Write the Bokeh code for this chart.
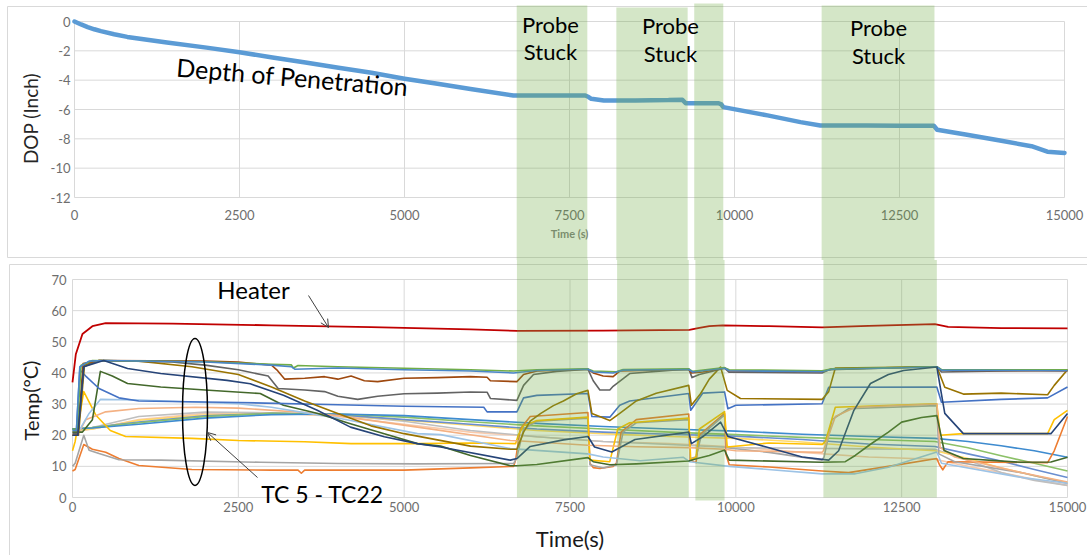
from bokeh.plotting import figure
from bokeh.layouts import column
from bokeh.models import Range1d, LinearAxis, FixedTicker, Arrow, OpenHead
from bokeh.embed import file_html
from bokeh.resources import INLINE
from bokeh.core.properties import value

# ---------------------------------------------------------------- data
time_ticks = [0, 2500, 5000, 7500, 10000, 12500, 15000]
time_labels = ["0", "2500", "5000", "7500", "10000", "12500", "15000"]
dop_ticks = [-12, -10, -8, -6, -4, -2, 0]
dop_labels = ["-12", "-10", "-8", "-6", "-4", "-2", "0"]
temp_ticks = [0, 10, 20, 30, 40, 50, 60, 70]
temp_labels = ["0", "10", "20", "30", "40", "50", "60", "70"]

# periods where the probe was stuck (s)
stuck_start = [6700, 8210, 9390, 11320]
stuck_end = [7770, 9290, 9830, 13030]

# depth of penetration (inch)
dop_t = [0, 100, 200, 300, 400, 600, 800, 1100, 1400, 2000, 2500, 3000, 3500, 4000, 4500, 5000,
         5500, 6000, 6650, 7000, 7500, 7740, 7790, 7830, 8020, 8500, 9000, 9210, 9260, 9760,
         9800, 9830, 10500, 11000, 11300, 12000, 12500, 13020, 13070, 13500, 14000, 14500,
         14740, 15000]
dop_v = [0, -0.2, -0.38, -0.53, -0.66, -0.87, -1.05, -1.25, -1.43, -1.78, -2.1, -2.45, -2.8,
         -3.15, -3.5, -3.9, -4.25, -4.6, -5.05, -5.05, -5.05, -5.05, -5.15, -5.27, -5.39, -5.38,
         -5.36, -5.33, -5.57, -5.57, -5.65, -5.84, -6.4, -6.86, -7.09, -7.09, -7.1, -7.1, -7.38,
         -7.7, -8.1, -8.5, -8.88, -8.96]

# heater temperature (degC)
heater_t = [0, 50, 150, 300, 500, 1500, 3000, 4500, 6000, 6700, 8000, 9300, 9450, 9600, 9800,
            10500, 11300, 12000, 13000, 13200, 14000, 15000]
heater_c = [37, 46, 52.5, 55, 56, 55.8, 55.3, 54.7, 54, 53.5, 53.6, 53.8, 54.5, 55, 55.3,
            55, 54.6, 55.1, 55.7, 54.8, 54.4, 54.3]

# thermocouples TC5 - TC22 (degC)
tc_blue_t = [0, 60, 110, 250, 500, 2000, 3000, 3300, 3350, 4000, 5000, 6000, 6650, 6750, 7000,
             7770, 7850, 8150, 8300, 9290, 9350, 9830, 9900, 11300, 11450, 13030, 13100, 15000]
tc_blue_c = [21.5, 21.5, 42, 43.8, 44, 43.5, 42.5, 42, 41.2, 41.6, 41, 40.6, 40, 40.2, 40.8,
             41.2, 40.3, 40, 40.9, 41.1, 40.3, 41.5, 40.7, 40.4, 41.2, 41.9, 40.9, 40.7]

tc_green_t = [0, 70, 130, 300, 2000, 3000, 3300, 3330, 3400, 4000, 5000, 6000, 6650, 7000, 7770,
              7850, 8200, 8300, 9290, 9350, 9830, 9900, 11300, 11450, 13030, 13100, 15000]
tc_green_c = [22, 22, 42.5, 44, 43.6, 42.8, 42.6, 41.6, 42.4, 42, 41.5, 41, 40.6, 41, 41.3,
              40.6, 40.4, 41.1, 41.3, 40.5, 41.7, 41, 40.7, 41.3, 42, 41.1, 41]

tc_brown_t = [0, 80, 160, 400, 2000, 2500, 3000, 3080, 3200, 3500, 3800, 4000, 4200, 4400, 4600,
              5000, 5500, 6000, 6250, 6300, 6700, 6800, 7000, 7770, 7850, 8000, 8150, 8250, 9290,
              9330, 9500, 9830, 9900, 11300, 11450, 13030, 13100, 15000]
tc_brown_c = [20, 20, 43, 44, 43.8, 43.5, 42.5, 41, 38, 38.3, 38.8, 38, 39, 37.5, 37.2,
              38.3, 38.5, 38.8, 38.6, 37.5, 37.2, 39.5, 40.6, 41.2, 40, 39, 38.8, 40.6, 41.1,
              40, 40.3, 41.6, 40.6, 40.4, 41.3, 42, 40.9, 40.6]

tc_dgray_t = [0, 80, 170, 400, 1500, 2000, 2500, 2950, 3100, 3500, 3800, 4000, 4300, 4600, 5000,
              5500, 6000, 6250, 6300, 6700, 6800, 6950, 7300, 7770, 7850, 7950, 8100, 8150, 8400,
              9290, 9340, 9450, 9830, 9900, 11300, 11400, 13030, 13100, 15000]
tc_dgray_c = [20.5, 20.5, 42, 44, 43.5, 42.5, 41, 39, 35, 34.5, 34, 32.5, 31.5, 32.5, 33.3,
              33.5, 33.9, 33.8, 31.8, 31.2, 36, 39.5, 40.5, 41.2, 37.5, 34.5, 34.5, 35.7, 39.8,
              41.3, 38.5, 39.5, 41.5, 40.2, 40, 41, 42, 40.3, 41]

tc_olive_t = [0, 90, 180, 400, 1000, 1800, 2500, 3000, 3500, 4000, 4500, 5000, 5500, 6000, 6600,
              6700, 6800, 6900, 7060, 7250, 7400, 7600, 7770, 7830, 8100, 8250, 8500, 8800, 9290,
              9330, 9470, 9600, 9770, 9870, 10070, 11300, 11400, 11500, 13030, 13150, 13430,
              14000, 14700, 14800, 15000]
tc_olive_c = [20, 20, 42.5, 44, 43.8, 42, 39.5, 35.5, 31, 27, 23, 20.5, 18.5, 16.5, 15.5,
              15.5, 21, 24.5, 27, 29.5, 31, 33.3, 34.4, 27, 24.7, 27, 31, 33.5, 36,
              29.6, 33.4, 38, 41.9, 34.4, 31.8, 31.5, 34, 41.6, 42, 35.4, 33.2,
              33.5, 33, 36, 41]

tc_mblue_t = [0, 60, 110, 200, 400, 700, 1000, 2500, 4000, 5000, 6200, 6250, 6700, 6800, 7000,
              7770, 7830, 8100, 8250, 8400, 9290, 9320, 9500, 9830, 9880, 10000, 11300, 11400,
              13030, 13100, 14000, 14700, 15000]
tc_mblue_c = [22, 22, 41, 39, 35, 32, 31, 30.5, 29.8, 29.3, 29, 27.5, 27.5, 32, 32.8,
              33.4, 26, 25.8, 29.6, 31, 33.4, 28, 33.5, 33.9, 28.5, 29.6, 30.1, 35.4,
              35.5, 30.6, 31.5, 32, 35.5]

tc_dgreen_t = [0, 150, 300, 420, 600, 830, 1330, 2000, 2830, 3180, 3700, 4190, 4700, 5200, 5550,
               6000, 6600, 6700, 7000, 7770, 7850, 8100, 8500, 9290, 9420, 9600, 9800, 9830, 9900,
               11300, 11650, 11800, 12030, 12300, 12500, 12800, 13030, 13140, 13430, 14290,
               14750, 15000]
tc_dgreen_c = [21, 21, 25, 40.5, 39, 36.6, 35.5, 34.5, 33.4, 29.6, 27, 23.7, 20.5, 17.3, 16.5,
               13.5, 10.2, 10.2, 10.6, 12.8, 11.5, 10.5, 10.8, 11.7, 12.5, 13.5, 15, 15.2, 12,
               11.3, 11.5, 13.5, 17.1, 21, 24.2, 25.7, 26.3, 15.1, 12.5, 11.3,
               11.4, 12.9]

tc_navy_t = [0, 80, 170, 470, 830, 1330, 2330, 2680, 3180, 3690, 4190, 4700, 5200, 5550, 6600,
             6700, 6900, 7400, 7770, 7870, 8130, 8480, 9290, 9330, 9500, 9770, 9880, 10500, 11000,
             11400, 11550, 11780, 12030, 12300, 12530, 13030, 13150, 13430, 14750, 15000]
tc_navy_c = [20, 20, 42, 44, 41.4, 39.8, 37.6, 36.5, 32.8, 28, 22.6, 19.5, 17.3, 16.2, 12,
             12.5, 16.4, 18.5, 19.6, 16.2, 14.6, 18.6, 21, 17.3, 19.5, 24.2, 19.6, 16, 13,
             12, 15, 28, 36.6, 39.5, 40.8, 41.9, 27, 20.5, 20.5, 27]

tc_lblue_t = [0, 100, 250, 420, 1000, 2500, 3000, 4000, 5200, 5550, 6600, 7770, 8000, 8560, 9210,
              9300, 9900, 11300, 11800, 12300, 13030, 13100, 14290, 15000]
tc_lblue_c = [21.5, 21.5, 27, 31.5, 31.3, 30.1, 29, 25.5, 20.5, 20.2, 15.7, 14, 13, 11.8, 12.9,
              11.5, 10, 7.6, 7.6, 9.7, 14.6, 11, 6.5, 4.6]

tc_lorange_t = [0, 100, 200, 500, 1000, 1860, 2500, 3500, 4000, 5200, 6600, 6700, 7770, 8500, 9290,
                9830, 10000, 11300, 11320, 11500, 11800, 13030, 13080, 13300, 14300, 15000]
tc_lorange_c = [21, 21, 25, 27.5, 28.6, 29, 28.7, 27.3, 26.3, 22.6, 18.3, 18.2, 16.8, 16.3, 16,
                15.5, 15, 14.5, 15, 26, 29, 30, 16, 13, 8, 5]

tc_gold_t = [0, 40, 170, 350, 570, 800, 1800, 2500, 3500, 4200, 5200, 6000, 6680, 6720, 6800,
             7000, 7770, 7800, 8100, 8220, 8400, 9290, 9320, 9400, 9450, 9830, 9870, 10500, 11300,
             11350, 11500, 13030, 13080, 13430, 14700, 14800, 15000]
tc_gold_c = [15, 18, 34, 26.5, 21.5, 19.6, 19, 18.3, 17.9, 17.3, 17.3, 17.5, 17.3, 20, 23,
             24.7, 25.8, 12, 11.5, 22, 24, 25.5, 12, 13, 22, 27.6, 16.2, 17.5, 17,
             18, 29, 30.1, 20, 20.5, 20.5, 25, 28]

tc_gray_t = [0, 40, 170, 250, 400, 700, 1330, 2830, 4000, 5200, 6650, 6700, 6800, 7000, 7770,
             7800, 8000, 8200, 8300, 8500, 9290, 9310, 9400, 9480, 9830, 9860, 10500, 11300, 11330,
             11450, 11700, 13030, 13060, 13300, 14300, 14700, 15000]
tc_gray_c = [10, 11, 20, 15.2, 14.1, 12.1, 12, 11.3, 10.9, 10.8, 10.9, 13, 22, 24.5, 25.5,
             10.5, 9.5, 10.5, 21, 24, 25, 12.5, 13, 20, 26.5, 16, 14.5, 12, 13,
             25, 28.5, 29.5, 14, 11.5, 8, 6, 4.5]

tc_orange_t = [0, 40, 170, 300, 500, 700, 1000, 1800, 3000, 3400, 3450, 3500, 5000, 6000, 6650,
               6680, 6750, 6900, 7770, 7800, 7850, 7950, 8150, 8200, 8270, 8500, 9290, 9310, 9400,
               9450, 9830, 9850, 9900, 10500, 11300, 11700, 12300, 13030, 13070, 13120, 13200,
               14700, 14800, 15000]
tc_orange_c = [8.5, 9, 17, 15.5, 14.5, 12.5, 10.3, 9, 8.8, 8.8, 7.8, 8.8, 8.8, 9.5, 10,
               12, 22, 26, 27.3, 11, 9.6, 9.3, 10, 11, 21, 25, 26.8, 12, 11.2,
               20, 27, 14, 10.5, 9.8, 8.5, 8, 10, 12.5, 10.5, 8.9, 11.5,
               11.2, 15, 26]

tc_slow_t = [0, 300, 1000, 2000, 3000, 4000, 5000, 6000, 7000, 8000, 9000, 10000, 11000, 12000,
             13000, 13500, 14000, 14500, 15000]
tc_slow1_c = [22, 22.3, 23.5, 25.5, 26.6, 26.8, 26.3, 25, 23.8, 22.8, 22, 21.3, 20.3, 19.6,
              19, 18, 16.6, 15, 12.9]
tc_slow2_c = [22, 22.5, 24, 26, 27, 26.8, 25.8, 24.3, 23, 22, 21, 20.2, 19.3, 18.6,
              18, 16, 13.4, 11, 8.5]
tc_slow3_c = [22, 22.5, 24.2, 26.2, 27, 26.6, 25, 23.5, 22, 21, 20.3, 19.7, 18.6, 17.2,
              16.4, 14, 11.7, 9, 6.4]
tc_slow4_c = [21.5, 22, 24.8, 26.5, 27, 26.5, 24.8, 23.2, 21.5, 20.5, 19.6, 19, 17.8, 16.2,
              15, 12.5, 9.5, 7, 4.8]
tc_slow5_c = [21, 22.5, 26, 27.4, 27.2, 26.5, 24.5, 21.5, 19.5, 18, 17, 16, 15.8, 15.6,
              15.5, 12, 8, 5.5, 3.9]
tc_slow6_c = [21, 22, 25, 27, 27.2, 26, 23.5, 21, 19.5, 18, 17.3, 16.2, 14.5, 13,
              12.3, 10, 8, 5.8, 3.9]

# ---------------------------------------------------------------- layout constants
W = 1087
TOP_H, BOT_H = 260, 295
FONT = "Lato"
GRID = "#D9D9D9"
TICK_TXT = "#6E6E6E"
BAND = "#70AD47"

# top panel: pixel positions of the plot area
T_X0, T_X1 = 74, 1064          # time 0 / 15000
T_Y0, T_Y1 = 21, 197           # DOP 0 / -12
t_sx = (T_X1 - T_X0) / 15000
t_sy = (T_Y1 - T_Y0) / 12

# bottom panel
B_X0, B_X1 = 72, 1067
B_Y0, B_Y70 = 237, 19          # temp 0 / 70 (figure-local pixels)
b_sx = (B_X1 - B_X0) / 15000
b_sy = (B_Y0 - B_Y70) / 70


def top_x(px):
    return (px - T_X0) / t_sx


def top_y(py):
    return -(py - T_Y0) / t_sy


def bot_x(px):
    return (px - B_X0) / b_sx


def bot_y(py):                 # py in page pixels
    return (B_Y0 - (py - TOP_H)) / b_sy


def base_fig(h, xr, yr):
    f = figure(width=W, height=h, x_range=xr, y_range=yr, output_backend="svg",
               toolbar_location=None, x_axis_type=None, y_axis_type=None, min_border=0)
    f.outline_line_color = None
    f.background_fill_color = "white"
    f.border_fill_color = "white"
    return f


def style_axis(ax, size):
    ax.major_tick_line_color = None
    ax.minor_tick_line_color = None
    ax.major_tick_out = 0
    ax.major_tick_in = 0
    ax.minor_tick_out = 0
    ax.minor_tick_in = 0
    ax.major_label_text_font = FONT
    ax.major_label_text_font_size = size
    ax.major_label_text_color = TICK_TXT
    ax.axis_label_text_font = FONT
    ax.axis_label_text_font_style = "normal"


def label(fig, x, y, txt, size, angle=0.0, color="black"):
    fig.text(x=[x], y=[y], text=[txt], angle=angle, text_font=value(FONT),
             text_font_size=size, text_color=color, text_align="center",
             text_baseline="middle", level="overlay")


# ================================================================ top: DOP
top = base_fig(TOP_H,
               Range1d(top_x(0), top_x(W)),
               Range1d(top_y(TOP_H), top_y(0)))

# chart border
top.quad(left=[top_x(7)], right=[top_x(W + 20)], top=[top_y(6)], bottom=[top_y(257)],
         fill_color=None, line_color=GRID, line_width=1)

# grid lines
top.segment(x0=[0] * 6, x1=[15000] * 6, y0=dop_ticks[1:], y1=dop_ticks[1:], line_color=GRID, line_width=1)
top.segment(x0=time_ticks, x1=time_ticks, y0=[-12] * len(time_ticks), y1=[0] * len(time_ticks),
            line_color=GRID, line_width=1)

top.line(dop_t, dop_v, line_width=4.5, line_color="#5B9BD5", line_cap="round", line_join="round")

tx = LinearAxis(fixed_location=-12, ticker=FixedTicker(ticks=time_ticks), bounds=(0, 15000),
                major_label_overrides=dict(zip(time_ticks, time_labels)))
style_axis(tx, "13px")
tx.axis_line_color = GRID
tx.major_label_standoff = 12
tx.axis_label = "Time (s)"
tx.axis_label_text_font_size = "11px"
tx.axis_label_text_font_style = "bold"
tx.axis_label_text_color = "#7F7F7F"
tx.axis_label_standoff = 4
top.add_layout(tx, "below")

ty = LinearAxis(fixed_location=0, ticker=FixedTicker(ticks=dop_ticks), bounds=(-12, 0),
                major_label_overrides=dict(zip(dop_ticks, dop_labels)))
style_axis(ty, "13px")
ty.axis_line_color = None
ty.major_label_standoff = 4
top.add_layout(ty, "left")

label(top, top_x(30), top_y(118), "DOP (Inch)", "19px", angle=1.5708, color="#262626")
label(top, top_x(292), top_y(76), "Depth of Penetration", "25px", angle=-0.085)

band_top_top = [top_y(5), top_y(7), top_y(3), top_y(5)]
top.quad(left=stuck_start, right=stuck_end, top=band_top_top,
         bottom=[top_y(TOP_H + 10)] * 4,
         fill_color=BAND, fill_alpha=0.3, line_color=None, level="overlay")

label_t = [7212, 9030, 12182]
probe_mid_px = [24, 25, 27]
stuck_mid_px = [51, 53, 55]
for lt, pm, sm in zip(label_t, probe_mid_px, stuck_mid_px):
    label(top, lt, top_y(pm), "Probe", "22px")
    label(top, lt, top_y(sm), "Stuck", "22px")

# ================================================================ bottom: temperatures
bot = base_fig(BOT_H,
               Range1d(bot_x(0), bot_x(W)),
               Range1d(bot_y(TOP_H + BOT_H), bot_y(TOP_H)))

bot.quad(left=[bot_x(9)], right=[bot_x(W + 20)], top=[bot_y(264)], bottom=[bot_y(600)],
         fill_color=None, line_color=GRID, line_width=1)

bot.segment(x0=[0] * 7, x1=[15000] * 7, y0=temp_ticks[1:], y1=temp_ticks[1:], line_color=GRID, line_width=1)
bot.segment(x0=time_ticks, x1=time_ticks, y0=[0] * len(time_ticks), y1=[70] * len(time_ticks),
            line_color=GRID, line_width=1)

tc_series = [
    (tc_slow_t, tc_slow6_c, "#F8CBAD"),
    (tc_slow_t, tc_slow5_c, "#BFBFBF"),
    (tc_slow_t, tc_slow4_c, "#FFD966"),
    (tc_slow_t, tc_slow3_c, "#698ED0"),
    (tc_slow_t, tc_slow2_c, "#8CC168"),
    (tc_slow_t, tc_slow1_c, "#3E8BCF"),
    (tc_orange_t, tc_orange_c, "#ED7D31"),
    (tc_gray_t, tc_gray_c, "#A5A5A5"),
    (tc_gold_t, tc_gold_c, "#FFC000"),
    (tc_lorange_t, tc_lorange_c, "#F4B183"),
    (tc_lblue_t, tc_lblue_c, "#9DC3E6"),
    (tc_dgreen_t, tc_dgreen_c, "#43682B"),
    (tc_mblue_t, tc_mblue_c, "#4472C4"),
    (tc_olive_t, tc_olive_c, "#997300"),
    (tc_dgray_t, tc_dgray_c, "#636363"),
    (tc_brown_t, tc_brown_c, "#9E480E"),
    (tc_green_t, tc_green_c, "#70AD47"),
    (tc_blue_t, tc_blue_c, "#4A86C8"),
    (tc_navy_t, tc_navy_c, "#264478"),
]
for xs, ys, col in tc_series:
    bot.line(xs, ys, line_color=col, line_width=1.6, line_join="round")

bot.line(heater_t, heater_c, line_color="#C00000", line_width=1.8)

bx = LinearAxis(fixed_location=0, ticker=FixedTicker(ticks=time_ticks), bounds=(0, 15000),
                major_label_overrides=dict(zip(time_ticks, time_labels)))
style_axis(bx, "13px")
bx.axis_line_color = GRID
bx.major_label_standoff = 4
bx.axis_label = "Time(s)"
bx.axis_label_text_font_size = "22px"
bx.axis_label_text_color = "#1A1A1A"
bx.axis_label_standoff = 10
bot.add_layout(bx, "below")

by = LinearAxis(fixed_location=0, ticker=FixedTicker(ticks=temp_ticks), bounds=(0, 70),
                major_label_overrides=dict(zip(temp_ticks, temp_labels)))
style_axis(by, "13px")
by.axis_line_color = None
by.major_label_standoff = 6
bot.add_layout(by, "left")

label(bot, bot_x(30), bot_y(400), "Temp(°C)", "20px", angle=1.5708, color="#1A1A1A")

# annotations
label(bot, bot_x(253), bot_y(289), "Heater", "24px")
bot.add_layout(Arrow(end=OpenHead(size=8, line_color="#404040", line_width=1),
                     x_start=bot_x(308), y_start=bot_y(295), x_end=bot_x(328), y_end=bot_y(327),
                     line_color="#404040", line_width=1))
bot.ellipse(x=[bot_x(194.5)], y=[bot_y(411.5)], width=[25 / b_sx], height=[147 / b_sy],
            fill_color=None, line_color="black", line_width=1.5)
bot.add_layout(Arrow(end=OpenHead(size=8, line_color="#404040", line_width=1),
                     x_start=bot_x(257), y_start=bot_y(477), x_end=bot_x(207), y_end=bot_y(432),
                     line_color="#404040", line_width=1))
label(bot, bot_x(322), bot_y(493), "TC 5 - TC22", "23px")

bot.quad(left=stuck_start, right=stuck_end, top=[bot_y(TOP_H - 10)] * 4,
         bottom=[bot_y(497), bot_y(497), bot_y(500), bot_y(497)],
         fill_color=BAND, fill_alpha=0.3, line_color=None, level="overlay")

layout = column(top, bot, spacing=0)
open("out.html", "w").write(file_html(layout, INLINE))
